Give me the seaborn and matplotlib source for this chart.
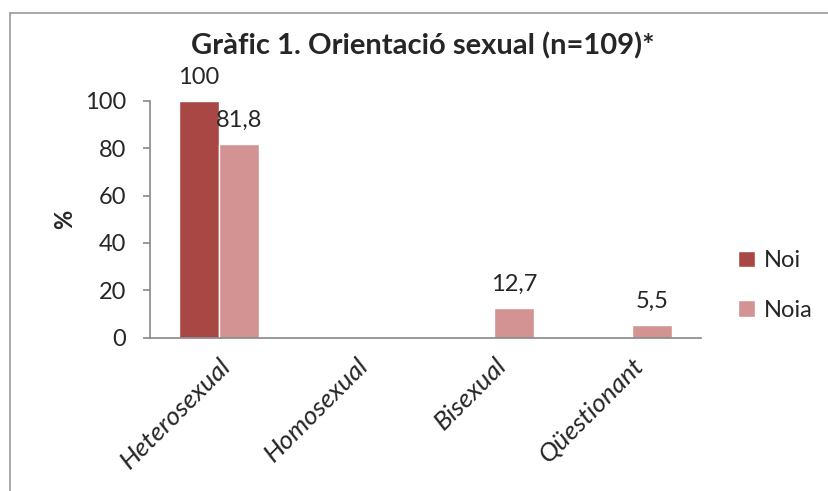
import matplotlib
matplotlib.use("Agg")
import matplotlib.pyplot as plt
from matplotlib.lines import Line2D
import seaborn as sns
import pandas as pd

categories = ["Heterosexual", "Homosexual", "Bisexual", "Qüestionant"]
noi = [100, 0, 0, 0]
noia = [81.8, 0, 12.7, 5.5]
series = ["Noi", "Noia"]
colors = ["#A84744", "#D39393"]

df = pd.DataFrame({
    "cat": categories * 2,
    "val": noi + noia,
    "sexe": ["Noi"] * 4 + ["Noia"] * 4,
})

sns.set_style("white")
plt.rcParams["font.family"] = ["Lato", "DejaVu Sans"]

fig = plt.figure(figsize=(8.29, 4.91), dpi=100)
ax = fig.add_axes([0.181, 0.312, 0.664, 0.483])

sns.barplot(data=df, x="cat", y="val", hue="sexe", hue_order=series,
            palette=colors, width=0.58, saturation=1, ax=ax, legend=True)

# value labels, zero values are not shown
for cont in ax.containers:
    labels = [("%g" % b.get_height()).replace(".", ",") if b.get_height() > 0 else ""
              for b in cont]
    ax.bar_label(cont, labels=labels, padding=9, fontsize=17)

ax.set_ylim(0, 100)
ax.set_yticks([0, 20, 40, 60, 80, 100])
ax.set_xlim(-0.5, 3.5)
ax.tick_params(axis="y", labelsize=17, left=True, length=5, color="#888888",
               width=1.2, pad=12)
ax.tick_params(axis="x", labelsize=19, bottom=False, pad=8)
for lab in ax.get_xticklabels():
    lab.set_rotation(45)
    lab.set_ha("right")
    lab.set_rotation_mode("anchor")
    lab.set_style("italic")
ax.set_xlabel("")
ax.set_ylabel("%", fontsize=17, fontweight="bold")
ax.yaxis.set_label_coords(-0.135, 0.5)
sns.despine(ax=ax)
for s in ["left", "bottom"]:
    ax.spines[s].set_color("#888888")
    ax.spines[s].set_linewidth(1.2)

ax.legend(loc="center left", bbox_to_anchor=(1.03, 0.22), frameon=False,
          fontsize=17, handlelength=0.7, handleheight=0.7, labelspacing=1.2,
          handletextpad=0.4)

fig.suptitle("Gràfic 1. Orientació sexual (n=109)*", x=0.51, y=0.935,
             fontsize=21, fontweight="bold")

# outer chart frame (left and top edges visible)
fig.add_artist(Line2D([0.012, 0.012], [0, 0.974], color="#999999", lw=1.2))
fig.add_artist(Line2D([0.012, 1.0], [0.974, 0.974], color="#999999", lw=1.2))

fig.savefig("out.png", dpi=100)
